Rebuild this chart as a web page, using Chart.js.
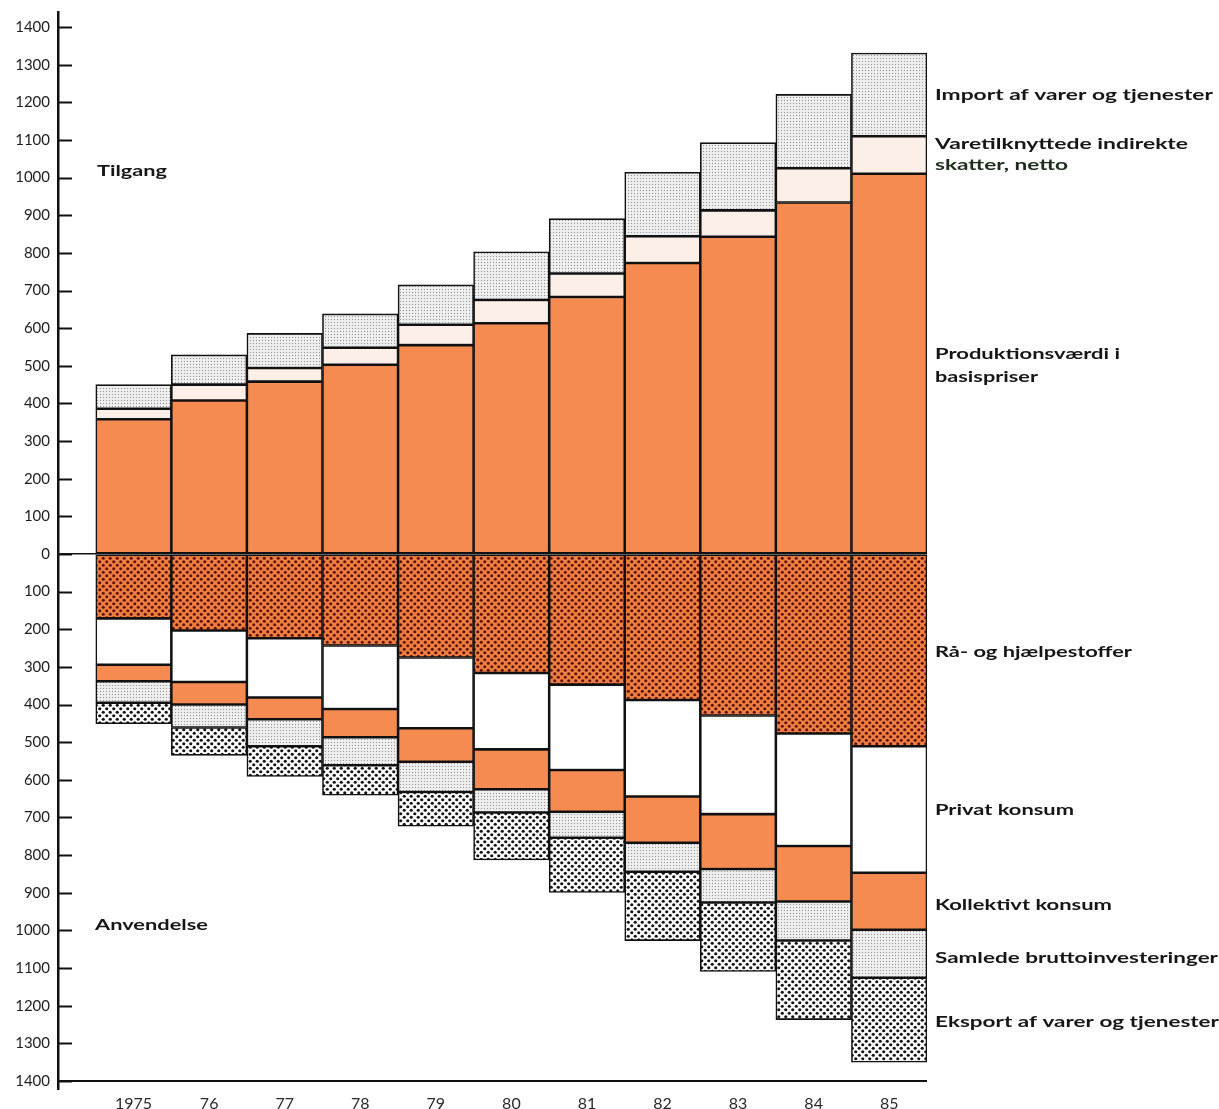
<!DOCTYPE html>
<html>
<head>
<meta charset="utf-8">
<script src="https://cdn.jsdelivr.net/npm/chart.js@4.4.1/dist/chart.umd.min.js"></script>
<style>
  html, body { margin: 0; padding: 0; background: #fff; }
  #wrap { width: 1219px; height: 1109px; }
</style>
</head>
<body>
<div id="wrap"><canvas id="chart" width="1219" height="1109"></canvas></div>
<script>
(() => {
  'use strict';

  // ── Data (mia. kr.) ───────────────────────────────────────────────────────

  const YEARS       = [1975, 1976, 1977, 1978, 1979, 1980, 1981, 1982, 1983, 1984, 1985];
  const YEAR_LABELS = ['1975', '76', '77', '78', '79', '80', '81', '82', '83', '84', '85'];
  const Y_TICKS     = [-1400, -1300, -1200, -1100, -1000, -900, -800, -700, -600, -500, -400,
                       -300, -200, -100, 0, 100, 200, 300, 400, 500, 600, 700, 800, 900,
                       1000, 1100, 1200, 1300, 1400];

  // Tilgang (supply)
  const PRODUKTION = [358, 408, 458, 503, 555, 613, 683, 773, 843, 934, 1010];
  const SKATTER    = [28, 42, 36, 45, 54, 62, 62, 71, 70, 91, 100];
  const IMPORT     = [64, 79, 92, 90, 106, 128, 146, 170, 180, 196, 221];

  // Anvendelse (use), drawn below zero
  const RAASTOFFER = [-171, -203, -224, -243, -275, -316, -347, -388, -429, -477, -511];
  const PRIVAT     = [-123, -137, -157, -169, -188, -203, -227, -256, -262, -299, -336];
  const KOLLEKTIVT = [-44, -60, -58, -75, -89, -106, -111, -123, -146, -147, -151];
  const INVEST     = [-57, -61, -72, -74, -80, -62, -69, -77, -89, -104, -128];
  const EKSPORT    = [-56, -74, -80, -80, -91, -126, -145, -183, -183, -210, -224];

  // ── Text placed beside the bars (y in axis units, w = printed width) ─────

  const SIDE_LABELS = [
    { text: 'Import af varer og tjenester',  y: 1219,  w: 278 },
    { text: 'Varetilknyttede indirekte',     y: 1091,  w: 253 },
    { text: 'skatter, netto',                y: 1033,  w: 133, color: '#1d2e1d' },
    { text: 'Produktionsværdi i',            y: 532,   w: 185 },
    { text: 'basispriser',                   y: 471,   w: 103 },
    { text: 'Rå- og hjælpestoffer',          y: -261,  w: 197 },
    { text: 'Privat konsum',                 y: -681,  w: 139 },
    { text: 'Kollektivt konsum',             y: -932,  w: 177 },
    { text: 'Samlede bruttoinvesteringer',   y: -1073, w: 283 },
    { text: 'Eksport af varer og tjenester', y: -1243, w: 284 },
  ];

  const FONT = 'Lato, "Open Sans", sans-serif';

  // ── Fill patterns ─────────────────────────────────────────────────────────

  function dotPattern(size, bg, dot, r, points) {
    const c = document.createElement('canvas');
    c.width = size; c.height = size;
    const g = c.getContext('2d');
    g.fillStyle = bg;
    g.fillRect(0, 0, size, size);
    g.fillStyle = dot;
    points.forEach(([x, y]) => {
      g.beginPath();
      g.arc(x, y, r, 0, Math.PI * 2);
      g.fill();
    });
    return g.createPattern(c, 'repeat');
  }

  function stipple() {
    const c = document.createElement('canvas');
    c.width = 3; c.height = 3;
    const g = c.getContext('2d');
    g.fillStyle = '#ededed';
    g.fillRect(0, 0, 3, 3);
    g.fillStyle = '#929292';
    g.fillRect(1, 1, 1, 1);
    return g.createPattern(c, 'repeat');
  }

  const ORANGE   = '#f68b52';
  const CREAM    = '#fbefe7';
  const GRAY     = stipple();
  const RUST     = dotPattern(7, '#f07f41', '#5c150a', 1.55, [[1.75, 1.75], [5.25, 5.25]]);
  const SPECKLE  = dotPattern(7, '#ffffff', '#151515', 1.6, [[1.75, 1.75], [5.25, 5.25]]);

  // ── Datasets ──────────────────────────────────────────────────────────────

  const toPoints = arr => arr.map((v, i) => ({ x: YEARS[i], y: v }));

  function series(label, values, fill) {
    return {
      label,
      data: toPoints(values),
      backgroundColor: fill,
      borderColor: '#111',
      borderWidth: 1.6,
      borderSkipped: false,
      stack: 'all',
      barPercentage: 1,
      categoryPercentage: 1,
    };
  }

  const datasets = [
    series('Produktionsværdi i basispriser', PRODUKTION, ORANGE),
    series('Varetilknyttede indirekte skatter, netto', SKATTER, CREAM),
    series('Import af varer og tjenester', IMPORT, GRAY),
    series('Rå- og hjælpestoffer', RAASTOFFER, RUST),
    series('Privat konsum', PRIVAT, '#ffffff'),
    series('Kollektivt konsum', KOLLEKTIVT, ORANGE),
    series('Samlede bruttoinvesteringer', INVEST, GRAY),
    series('Eksport af varer og tjenester', EKSPORT, SPECKLE),
  ];

  // ── Extra drawing: inward tick marks and text ─────────────────────────────

  // Bold label squeezed/stretched to the printed width of the original
  function fitText(ctx, text, x, y, width) {
    const w = ctx.measureText(text).width;
    ctx.save();
    ctx.translate(x, y);
    ctx.scale(width / w, 1);
    ctx.fillText(text, 0, 0);
    ctx.restore();
  }

  const decorations = {
    id: 'decorations',
    afterDraw(chart) {
      const { ctx, chartArea, scales } = chart;
      const y = scales.y;
      ctx.save();

      ctx.strokeStyle = '#111';
      ctx.lineWidth = 2;
      Y_TICKS.forEach(v => {
        const py = Math.round(y.getPixelForValue(v)) + 0.5;
        ctx.beginPath();
        ctx.moveTo(chartArea.left, py);
        ctx.lineTo(chartArea.left + 14, py);
        ctx.stroke();
      });

      ctx.textBaseline = 'middle';
      ctx.textAlign = 'left';
      ctx.font = `bold 16px ${FONT}`;
      SIDE_LABELS.forEach(l => {
        ctx.fillStyle = l.color || '#161616';
        fitText(ctx, l.text, chartArea.right + 8, y.getPixelForValue(l.y), l.w);
      });

      ctx.fillStyle = '#161616';
      fitText(ctx, 'Tilgang', chartArea.left + 39, y.getPixelForValue(1017), 70);
      fitText(ctx, 'Anvendelse', chartArea.left + 37, y.getPixelForValue(-985), 113);

      ctx.restore();
    },
  };

  // ── Chart ─────────────────────────────────────────────────────────────────

  new Chart(document.getElementById('chart').getContext('2d'), {
    type: 'bar',
    data: { datasets },
    plugins: [decorations],
    options: {
      responsive: false,
      animation: false,
      layout: { padding: { left: 0, right: 292, top: 12, bottom: 0 } },
      plugins: {
        legend: { display: false },
        tooltip: { enabled: false },
      },
      scales: {
        x: {
          type: 'linear',
          min: 1974,
          max: 1985.5,
          stacked: true,
          offset: false,
          afterBuildTicks: s => { s.ticks = YEARS.map(v => ({ value: v })); },
          afterFit: s => { s.height = 20.5; },
          border: { display: false },
          grid: { display: false, drawTicks: false },
          ticks: {
            padding: 6,
            autoSkip: false,
            maxRotation: 0,
            color: '#2a2a2a',
            font: { family: FONT, size: 16 },
            callback: (v, i) => YEAR_LABELS[i],
          },
        },
        y: {
          type: 'linear',
          min: -1420,
          max: 1440,
          stacked: true,
          afterBuildTicks: s => { s.ticks = Y_TICKS.map(v => ({ value: v })); },
          afterFit: s => {
            s.width = 58;
            s.paddingTop = 0;
            s.paddingBottom = 0;
          },
          border: { display: true, color: '#111', width: 2.5 },
          grid: {
            drawTicks: false,
            lineWidth: c => (c.tick && c.tick.value === 0) ? 1.5 : 2,
            color: c => (c.tick && (c.tick.value === 0 || c.tick.value === -1400)) ? '#111' : 'rgba(0,0,0,0)',
          },
          ticks: {
            padding: 8,
            color: '#1e1e1e',
            font: { family: FONT, size: 15 },
            callback: v => String(Math.abs(v)),
          },
        },
      },
    },
  });
})();
</script>
</body>
</html>
